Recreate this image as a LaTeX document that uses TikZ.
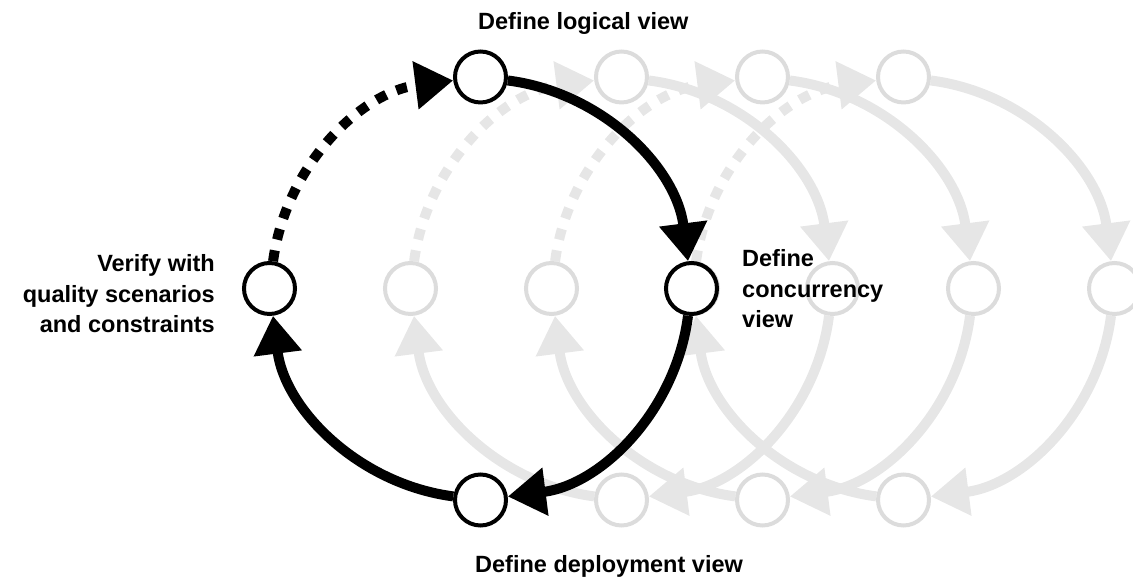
\documentclass[tikz,border=0pt]{standalone}
\usepackage{fontspec}
\setmainfont{Liberation Sans}
\usetikzlibrary{arrows.meta}
\definecolor{ringgray}{HTML}{DCDCDC}
\definecolor{arcgray}{HTML}{E6E6E6}
\pgfdeclarelayer{ghostarcs}
\pgfdeclarelayer{ghostnodes}
\pgfdeclarelayer{frontnodes}
\pgfsetlayers{ghostarcs,ghostnodes,main,frontnodes}
\tikzset{
  stage/.style={circle, draw=black, line width=4pt, fill=white, minimum size=51pt, inner sep=0pt},
  ghost/.style={stage, draw=ringgray},
  flow/.style={line width=10pt, -{Triangle[length=38pt,width=46pt]}},
  dotflow/.style={flow, dash pattern=on 11pt off 11pt},
  stagetext/.style={font=\fontsize{23.5}{30.5}\selectfont\bfseries, inner sep=0pt},
}
\begin{document}
\begin{tikzpicture}[x=1pt,y=1pt]
\useasboundingbox (0,0) rectangle (1133,577);
% faded repetitions
\foreach \k in {1,2,3} {
  \begin{pgfonlayer}{ghostnodes}
    \node[ghost] (t\k) at (480.5+\k*141,500) {};
    \node[ghost] (r\k) at (691.5+\k*141,288.5) {};
    \node[ghost] (b\k) at (480.5+\k*141,77) {};
    \node[ghost] (l\k) at (269.5+\k*141,288.5) {};
  \end{pgfonlayer}
  \begin{pgfonlayer}{ghostarcs}
    \draw[flow, arcgray] (t\k) to[out=-7.35, in=97.35, looseness=0.95] (r\k);
    \draw[flow, arcgray] (r\k) to[out=-97.35, in=7.35, looseness=0.95] (b\k);
    \draw[flow, arcgray] (b\k) to[out=172.65, in=277.35, looseness=0.95] (l\k);
    \draw[dotflow, arcgray] (l\k) to[out=82.65, in=187.35, looseness=0.95] (t\k);
  \end{pgfonlayer}
}
% main cycle
\begin{pgfonlayer}{frontnodes}
  \node[stage] (t) at (480.5,500) {};
  \node[stage] (r) at (691.5,288.5) {};
  \node[stage] (b) at (480.5,77) {};
  \node[stage] (l) at (269.5,288.5) {};
\end{pgfonlayer}
\draw[flow] (t) to[out=-7.35, in=97.35, looseness=0.95] (r);
\draw[flow] (r) to[out=-97.35, in=7.35, looseness=0.95] (b);
\draw[flow] (b) to[out=172.65, in=277.35, looseness=0.95] (l);
\draw[dotflow] (l) to[out=82.65, in=187.35, looseness=0.95] (t);
% labels
\node[stagetext, anchor=base west] (lt) at (478,547) {Define logical view};
\node[stagetext, anchor=base west] (lb) at (475,4) {Define deployment view};
\node[stagetext, anchor=west, align=left] (lr) at (742,288) {Define\\concurrency\\view};
\node[stagetext, anchor=east, align=right] (ll) at (215,283) {Verify with\\quality scenarios\\and constraints};
\end{tikzpicture}
\end{document}
